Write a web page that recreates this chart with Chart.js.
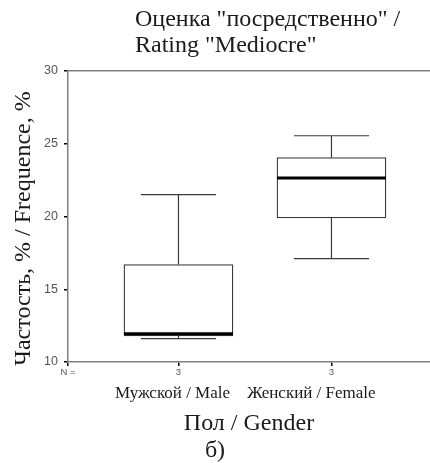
<!DOCTYPE html>
<html>
<head>
<meta charset="utf-8">
<script src="https://cdn.jsdelivr.net/npm/chart.js@4"></script>
<style>
html,body{margin:0;padding:0;background:#fff;}
canvas{display:block;}
</style>
</head>
<body>
<canvas id="c" width="430" height="463"></canvas>
<script>
// ---- data ----
const categories = ["Мужской / Male", "Женский / Female"];
const nLabels = ["3", "3"];
const minVals = [11.6, 17.1];
const q1Vals = [11.8, 19.9];
const medianVals = [11.95, 22.65];
const q3Vals = [16.7, 24.05];
const maxVals = [21.5, 25.55];
const titleLines = ['Оценка "посредственно" /', 'Rating "Mediocre"'];
const yTitle = "Частость, % / Frequence, %    ";
const xTitle = "Пол / Gender";
const panelLabel = "б)";
const nPrefix = "N =";

const SERIF = "'Liberation Serif', 'Times New Roman', serif";
const SANS = "'Liberation Sans', Arial, sans-serif";
const X_MIN = -0.722, X_MAX = 1.644;

const boxPlugin = {
  id: 'boxWhiskers',
  afterDatasetsDraw(chart) {
    const ctx = chart.ctx;
    const xs = chart.scales.x, ys = chart.scales.y;
    const meta = chart.getDatasetMeta(0);
    ctx.save();
    categories.forEach((c, i) => {
      const px = xs.getPixelForValue(i);
      const bw = meta.data[i].width;
      const capW = bw * 0.69;
      const yMin = ys.getPixelForValue(minVals[i]);
      const yQ1 = ys.getPixelForValue(q1Vals[i]);
      const yQ3 = ys.getPixelForValue(q3Vals[i]);
      const yMax = ys.getPixelForValue(maxVals[i]);
      const yMed = ys.getPixelForValue(medianVals[i]);
      ctx.strokeStyle = '#3a3a3a';
      ctx.lineWidth = 1.2;
      ctx.beginPath();
      ctx.moveTo(px, yQ3); ctx.lineTo(px, yMax);
      ctx.moveTo(px - capW / 2, yMax); ctx.lineTo(px + capW / 2, yMax);
      ctx.moveTo(px, yQ1); ctx.lineTo(px, yMin);
      ctx.moveTo(px - capW / 2, yMin); ctx.lineTo(px + capW / 2, yMin);
      ctx.stroke();
      ctx.strokeStyle = '#000';
      ctx.lineWidth = 3;
      ctx.beginPath();
      ctx.moveTo(px - bw / 2, yMed); ctx.lineTo(px + bw / 2, yMed);
      ctx.stroke();
    });
    ctx.restore();
  }
};

const titlePlugin = {
  id: 'leftTitle',
  afterDraw(chart) {
    const ctx = chart.ctx;
    ctx.save();
    ctx.font = "24px " + SERIF;
    ctx.fillStyle = '#1a1a1a';
    ctx.textAlign = 'left';
    ctx.textBaseline = 'middle';
    titleLines.forEach((t, i) => ctx.fillText(t, 135, 20 + i * 26));
    ctx.restore();
  }
};

new Chart(document.getElementById('c'), {
  type: 'bar',
  data: {
    datasets: [{
      data: categories.map((c, i) => ({ x: i, y: [q1Vals[i], q3Vals[i]] })),
      backgroundColor: '#ffffff',
      borderColor: '#3a3a3a',
      borderWidth: 1.3,
      borderSkipped: false,
      barThickness: 109
    }]
  },
  options: {
    responsive: false,
    animation: false,
    devicePixelRatio: 1,
    layout: { padding: { top: 71, right: 0, left: 0, bottom: 0 } },
    plugins: {
      legend: { display: false },
      tooltip: { enabled: false },
      title: {
        display: true,
        position: 'bottom',
        text: panelLabel,
        font: { family: SERIF, size: 24, weight: 'normal', lineHeight: 1 },
        color: '#1a1a1a',
        padding: { top: 1, bottom: 0 }
      }
    },
    scales: {
      x: {
        type: 'linear',
        position: 'bottom',
        offset: false,
        min: X_MIN, max: X_MAX,
        afterBuildTicks(s) { s.ticks = [{ value: X_MIN }].concat(categories.map((c, i) => ({ value: i }))); },
        afterFit(s) { s.height = 18; },
        ticks: {
          font: { family: SANS, size: 9.5 },
          color: '#555',
          padding: 1,
          maxRotation: 0,
          autoSkip: false,
          callback(v) { return v === X_MIN ? nPrefix : nLabels[Math.round(v)]; }
        },
        grid: { display: true, offset: false, drawOnChartArea: false, tickLength: 4, color: '#000', lineWidth: 1.5 },
        border: { display: true, color: '#808080', width: 1.5 }
      },
      x2: {
        type: 'linear',
        position: 'bottom',
        offset: false,
        min: -0.752, max: 1.853,
        afterBuildTicks(s) { s.ticks = categories.map((c, i) => ({ value: i })); },
        afterFit(s) { s.height = 58; },
        ticks: {
          font: { family: SERIF, size: 17 },
          color: '#1a1a1a',
          padding: 3,
          maxRotation: 0,
          autoSkip: false,
          callback(v) { return categories[Math.round(v)]; }
        },
        grid: { display: false, offset: false, drawTicks: false },
        border: { display: false },
        title: {
          display: true,
          text: xTitle,
          font: { family: SERIF, size: 24 },
          color: '#1a1a1a',
          padding: { top: 0, bottom: 0 }
        }
      },
      xTop: {
        type: 'linear',
        position: 'top',
        offset: false,
        min: X_MIN, max: X_MAX,
        afterFit(s) { s.height = 0; },
        ticks: { display: false },
        grid: { display: false, offset: false, drawTicks: false },
        border: { display: true, color: '#808080', width: 1.5 }
      },
      y: {
        min: 10, max: 30,
        afterFit(s) { s.width = 68; },
        ticks: {
          stepSize: 5,
          font: { family: SANS, size: 12.5 },
          color: '#555',
          padding: 6
        },
        grid: { display: true, drawOnChartArea: false, tickLength: 4, color: '#000', lineWidth: 1.5 },
        border: { display: true, color: '#808080', width: 1.5 },
        title: {
          display: true,
          text: yTitle,
          font: { family: SERIF, size: 24 },
          color: '#1a1a1a',
          padding: { top: 9, bottom: 0 }
        }
      }
    }
  },
  plugins: [boxPlugin, titlePlugin]
});
</script>
</body>
</html>
